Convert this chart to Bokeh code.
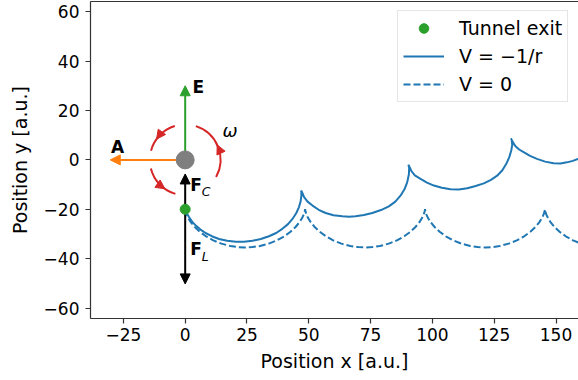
from bokeh.plotting import figure
from bokeh.models import (LinearAxis, FixedTicker, Arrow, NormalHead, Legend,
                          LegendItem, Range1d)
from bokeh.core.properties import value
from bokeh.embed import file_html
from bokeh.resources import INLINE
import math

# ---------------- data ----------------
exit_x = [0.0]
exit_y = [-20.0]

coulomb_x = [0.0, 0.5, 1.6, 2.8, 4.3, 6.2, 8.4, 11.0, 13.7, 17.0, 20.5, 23.8, 27.2, 30.6,
             33.9, 36.8, 39.3, 41.6, 43.4, 44.9, 46.0, 46.7, 47.0, 47.0, 46.9, 47.3, 48.1,
             49.5, 51.5, 54.0, 56.8, 60.0, 63.6, 66.3, 68.9, 72.3, 75.7, 79.2, 82.4, 85.0,
             87.1, 88.7, 89.8, 90.5, 90.6, 90.3, 90.6, 91.5, 92.9, 95.2, 97.8, 100.6, 103.8,
             107.3, 110.7, 114.1, 117.5, 120.8, 123.7, 126.2, 128.3, 129.9, 131.1, 131.9,
             132.3, 132.1, 131.8, 132.4, 133.6, 135.1, 136.9, 139.5, 142.3, 145.6, 149.0,
             151.8, 154.4, 156.8, 158.9, 160.5]
coulomb_y = [-20.0, -21.3, -23.2, -25.0, -26.6, -28.2, -29.7, -31.0, -32.0, -32.75, -33.1,
             -33.15, -32.75, -32.0, -30.9, -29.6, -27.9, -26.0, -23.9, -21.6, -19.2, -16.8,
             -14.5, -13.0, -12.4, -13.2, -15.1, -16.9, -18.5, -20.2, -21.5, -22.4, -22.8,
             -23.0, -22.8, -22.3, -21.5, -20.3, -18.8, -16.9, -14.5, -11.9, -9.1, -5.8, -3.2,
             -2.0, -2.6, -4.5, -6.3, -7.7, -9.2, -10.4, -11.3, -11.9, -12.0, -11.5, -10.6,
             -9.5, -8.1, -6.4, -4.2, -1.6, 1.1, 3.8, 6.1, 8.0, 8.7, 7.4, 5.5, 4.2, 3.1, 1.6,
             0.4, -0.7, -1.4, -1.5, -1.0, -0.4, 0.4, 1.0]

free_x = [0.0, 0.16, 0.53, 1.22, 2.32, 3.88, 5.91, 8.42, 11.36, 14.68, 18.28, 21.30, 24.25,
          27.21, 30.23, 33.83, 37.15, 40.09, 42.60, 44.63, 46.19, 47.29, 47.98, 48.35, 48.51,
          48.67, 49.04, 49.73, 50.83, 52.39, 54.42, 56.93, 59.87, 63.19, 66.79, 69.81, 72.76,
          75.72, 78.74, 82.34, 85.66, 88.60, 91.11, 93.14, 94.70, 95.80, 96.49, 96.86, 97.02,
          97.18, 97.55, 98.24, 99.34, 100.90, 102.93, 105.44, 108.38, 111.70, 115.30, 118.32,
          121.27, 124.23, 127.25, 130.85, 134.17, 137.11, 139.62, 141.65, 143.21, 144.31,
          145.00, 145.37, 145.53, 145.69, 146.06, 146.75, 147.85, 149.41, 151.44, 153.95,
          156.89, 160.21]
free_y = [-20.0, -20.94, -22.07, -23.55, -25.29, -27.17, -29.10, -30.93, -32.57, -33.90,
          -34.86, -35.30, -35.44, -35.30, -34.86, -33.90, -32.57, -30.93, -29.10, -27.17,
          -25.29, -23.55, -22.07, -20.94, -20.0,
          -20.94, -22.07, -23.55, -25.29, -27.17, -29.10, -30.93, -32.57, -33.90, -34.86,
          -35.30, -35.44, -35.30, -34.86, -33.90, -32.57, -30.93, -29.10, -27.17, -25.29,
          -23.55, -22.07, -20.94, -20.0,
          -20.94, -22.07, -23.55, -25.29, -27.17, -29.10, -30.93, -32.57, -33.90, -34.86,
          -35.30, -35.44, -35.30, -34.86, -33.90, -32.57, -30.93, -29.10, -27.17, -25.29,
          -23.55, -22.07, -20.94, -20.0,
          -20.94, -22.07, -23.55, -25.29, -27.17, -29.10, -30.93, -32.57, -33.90]

x_ticks = [-25, 0, 25, 50, 75, 100, 125, 150]
x_tick_labels = ["\u221225", "0", "25", "50", "75", "100", "125", "150"]
y_ticks = [-60, -40, -20, 0, 20, 40, 60]
y_tick_labels = ["\u221260", "\u221240", "\u221220", "0", "20", "40", "60"]

legend_labels = ["Tunnel exit", "V = \u22121/r", "V = 0"]

# schematic: arrows (x0, y0, x1, y1)
arrow_names = ["E", "A", "F_C", "F_L"]
arrow_x0 = [0.0, 0.0, 0.0, 0.0]
arrow_y0 = [0.0, 0.0, -20.0, -20.0]
arrow_x1 = [0.0, -30.3, 0.0, 0.0]
arrow_y1 = [30.0, 0.0, -5.7, -50.2]
arrow_colors = ["#2ca02c", "#ff7f0e", "black", "black"]

atom_x = [0.0]
atom_y = [0.0]

omega_r = 14.3
arc_start_deg = [107.0, 194.0, -29.0]
arc_end_deg = [165.0, 254.0, 72.5]
head_tip_deg = [144.0, 235.0, 25.0]

bold_text = ["E", "A", "F", "F"]
bold_x = [3.0, -30.0, 2.0, 2.0]
bold_y = [29.4, 5.1, -10.0, -36.1]
sub_text = ["C", "L"]
sub_x = [6.7, 6.7]
sub_y = [-12.9, -39.0]
omega_text = ["\u03c9"]
omega_x = [15.1]
omega_y = [11.8]

BLUE = "#1f77b4"
RED = "#d62728"
FONT = "DejaVu Sans"
SPINE = "#333333"

# ---------------- figure ----------------
p = figure(width=578, height=380, output_backend="svg", toolbar_location=None,
           x_range=Range1d(-38.3, 159.1), y_range=Range1d(-64.2, 64.1),
           min_border_left=90, min_border_right=0, min_border_top=1,
           min_border_bottom=62)
p.grid.visible = False
p.outline_line_color = None
p.background_fill_color = "white"
p.border_fill_color = "white"

for ax in (p.xaxis[0], p.yaxis[0]):
    ax.axis_line_color = SPINE
    ax.axis_line_width = 1.2
    ax.major_tick_line_color = SPINE
    ax.major_tick_line_width = 1.2
    ax.major_tick_in = 0
    ax.major_tick_out = 5
    ax.minor_tick_line_color = None
    ax.major_label_text_font = FONT
    ax.major_label_text_font_size = "17px"
    ax.major_label_text_color = "black"
    ax.axis_label_text_font = FONT
    ax.axis_label_text_font_size = "19px"
    ax.axis_label_text_font_style = "normal"
    ax.axis_label_text_color = "black"

p.xaxis.ticker = FixedTicker(ticks=x_ticks)
p.xaxis.major_label_overrides = {t: s for t, s in zip(x_ticks, x_tick_labels)}
p.xaxis.axis_label = "Position x [a.u.]"
p.xaxis.major_label_standoff = 4
p.xaxis.axis_label_standoff = 6

p.yaxis.ticker = FixedTicker(ticks=y_ticks)
p.yaxis.major_label_overrides = {t: s for t, s in zip(y_ticks, y_tick_labels)}
p.yaxis.axis_label = "Position y [a.u.]"
p.yaxis.major_label_standoff = 6
p.yaxis.axis_label_standoff = 10

top_axis = LinearAxis(ticker=FixedTicker(ticks=[]), major_tick_out=0, major_tick_in=0,
                      minor_tick_out=0, minor_tick_in=0, major_label_standoff=0,
                      axis_line_color=SPINE, axis_line_width=1.2)
p.add_layout(top_axis, "above")

# arrows of the schematic
for i in range(len(arrow_names)):
    p.add_layout(Arrow(end=NormalHead(size=10, fill_color=arrow_colors[i],
                                      line_color=arrow_colors[i], line_width=1),
                       x_start=arrow_x0[i], y_start=arrow_y0[i],
                       x_end=arrow_x1[i], y_end=arrow_y1[i],
                       line_color=arrow_colors[i], line_width=2, level="underlay"))

# rotation arcs with arrow heads
p.arc(x=[0.0] * len(arc_start_deg), y=[0.0] * len(arc_start_deg), radius=omega_r,
      start_angle=arc_start_deg, end_angle=arc_end_deg,
      start_angle_units="deg", end_angle_units="deg", direction="anticlock",
      line_color=RED, line_width=2)
for th in head_tip_deg:
    t = math.radians(th)
    tx, ty = omega_r * math.cos(t), omega_r * math.sin(t)
    dx, dy = -math.sin(t), math.cos(t)
    p.add_layout(Arrow(end=NormalHead(size=9, fill_color=RED, line_color=RED, line_width=1),
                       x_start=tx - 1.0 * dx, y_start=ty - 1.0 * dy, x_end=tx, y_end=ty,
                       line_color=None, level="glyph"))

# atom
p.scatter(atom_x, atom_y, size=18, color="#7f7f7f")

# trajectories
r_free = p.line(free_x, free_y, line_width=2, color=BLUE, line_dash="7 3")
r_coul = p.line(coulomb_x, coulomb_y, line_width=2, color=BLUE)
r_exit = p.scatter(exit_x, exit_y, size=10, color="#2ca02c")

# labels
p.text(bold_x, bold_y, text=bold_text, text_font=value(FONT), text_font_style="bold",
       text_font_size="17px", text_baseline="alphabetic", text_align="left", color="black")
p.text(sub_x, sub_y, text=sub_text, text_font=value(FONT), text_font_style="italic",
       text_font_size="12.5px", text_baseline="alphabetic", text_align="left", color="black")
p.text(omega_x, omega_y, text=omega_text, text_font=value(FONT), text_font_style="italic",
       text_font_size="18px", text_baseline="alphabetic", text_align="left", color="black")

legend = Legend(items=[LegendItem(label=legend_labels[0], renderers=[r_exit]),
                       LegendItem(label=legend_labels[1], renderers=[r_coul]),
                       LegendItem(label=legend_labels[2], renderers=[r_free])],
                location=(307, 216))
legend.label_text_font = FONT
legend.label_text_font_size = "19px"
legend.label_text_color = "black"
legend.label_height = 24
legend.glyph_width = 41
legend.glyph_height = 24
legend.label_standoff = 15
legend.padding = 5
legend.spacing = 4
legend.margin = 0
legend.border_line_color = "#cccccc"
legend.border_line_width = 1
legend.background_fill_alpha = 0.8
p.add_layout(legend)

open("out.html", "w").write(file_html(p, INLINE))
